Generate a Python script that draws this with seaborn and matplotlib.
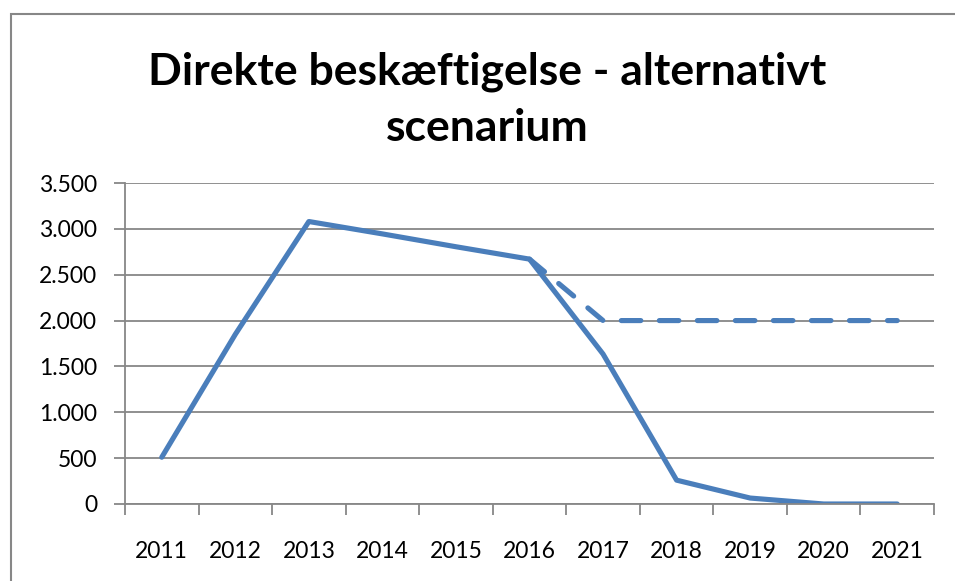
import numpy as np
import pandas as pd
import matplotlib
matplotlib.use("Agg")
import matplotlib.pyplot as plt
import seaborn as sns
from matplotlib.ticker import FuncFormatter, FixedLocator
from matplotlib.patches import Rectangle

years = ["2011", "2012", "2013", "2014", "2015", "2016", "2017", "2018", "2019", "2020", "2021"]
base_values = [510, 1850, 3080, 2945, 2805, 2670, 1635, 260, 65, 0, 0]
alt_values = [np.nan, np.nan, np.nan, np.nan, np.nan, 2670, 2000, 2000, 2000, 2000, 2000]
title_line1 = "Direkte beskæftigelse - alternativt"
title_line2 = "scenarium"

sns.set_style("white")
plt.rcParams["font.family"] = ["Lato", "DejaVu Sans"]
plt.rcParams["text.color"] = "black"
plt.rcParams["xtick.color"] = "black"
plt.rcParams["ytick.color"] = "black"

W, H = 955, 581
fig = plt.figure(figsize=(W / 100, H / 100), dpi=100)
ax = fig.add_axes([125 / W, (H - 504) / H, (934 - 125) / W, (504 - 183) / H])

pos = np.arange(len(years))
df = pd.DataFrame({"pos": pos, "base": base_values, "alt": alt_values})
color = "#4A7EBB"
grey = "#878787"

sns.lineplot(data=df, x="pos", y="base", ax=ax, color=color, linewidth=3.7,
             solid_capstyle="round", solid_joinstyle="round")
alt_df = df.dropna(subset=["alt"])
sns.lineplot(data=alt_df, x="pos", y="alt", ax=ax, color=color, linewidth=3.7,
             linestyle=(0, (3.8, 3.6)), dash_capstyle="round", dash_joinstyle="round")

ax.set_xlim(-0.5, len(years) - 0.5)
ax.set_ylim(0, 3500)
ax.set_yticks(np.arange(0, 3501, 500))
ax.yaxis.set_major_formatter(FuncFormatter(lambda v, p: f"{int(v):,}".replace(",", ".")))
ax.grid(axis="y", color=grey, linewidth=1.3)
ax.set_axisbelow(True)

ax.set_xticks(pos)
ax.set_xticklabels(years)
ax.xaxis.set_minor_locator(FixedLocator(np.arange(-0.5, len(years), 1.0)))
ax.tick_params(axis="x", which="major", length=0, pad=27, labelsize=16.5, bottom=True)
ax.tick_params(axis="x", which="minor", length=8, width=1.3, color=grey, direction="out", bottom=True)
ax.tick_params(axis="y", length=8, width=1.3, color=grey, direction="out", pad=12,
               labelsize=16.5, left=True, labelcolor="black")
ax.tick_params(axis="x", labelcolor="black")

for s in ["top", "right"]:
    ax.spines[s].set_visible(False)
for s in ["left", "bottom"]:
    ax.spines[s].set_color(grey)
    ax.spines[s].set_linewidth(1.3)
ax.set_xlabel("")
ax.set_ylabel("")

fig.text(487 / W, 1 - 85 / H, title_line1, ha="center", va="baseline",
         fontsize=32, fontweight="bold", color="black")
fig.text(487 / W, 1 - 141 / H, title_line2, ha="center", va="baseline",
         fontsize=32, fontweight="bold", color="black")

fig.patches.append(Rectangle((11 / W, -0.1), 1.2, 1 - 14 / H + 0.1, transform=fig.transFigure,
                             fill=False, edgecolor=grey, linewidth=1.5))

fig.savefig("out.png", dpi=100)
